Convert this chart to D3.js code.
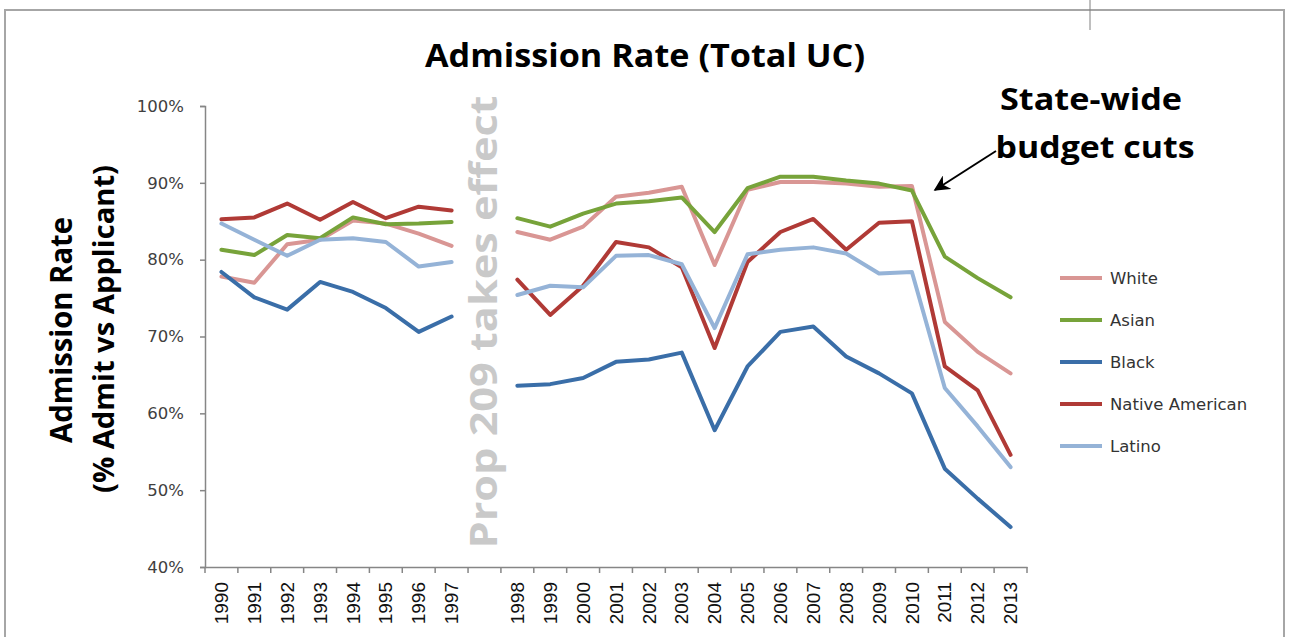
<!DOCTYPE html>
<html>
<head>
<meta charset="utf-8">
<script src="https://cdn.jsdelivr.net/npm/d3@7"></script>
<style>
  body { margin: 0; background: #fff; }
  svg { display: block; }
</style>
</head>
<body>
<svg id="chart" width="1290" height="637"></svg>
<script>
// years before and after prop 209
var yearsBefore = ['1990','1991','1992','1993','1994','1995','1996','1997'];
var yearsAfter = ['1998','1999','2000','2001','2002','2003','2004','2005','2006','2007','2008','2009','2010','2011','2012','2013'];

var white = [77.8, 77.0, 82.0, 82.6, 85.1, 84.7, 83.4, 81.8,
             83.6, 82.6, 84.3, 88.2, 88.7, 89.5, 79.3, 89.1, 90.1, 90.1, 89.9, 89.5, 89.6, 71.9, 68.0, 65.2];
var asian = [81.3, 80.6, 83.2, 82.8, 85.5, 84.6, 84.7, 84.9,
             85.4, 84.3, 86.0, 87.3, 87.6, 88.1, 83.6, 89.3, 90.8, 90.8, 90.3, 89.9, 89.0, 80.4, 77.6, 75.1];
var black = [78.4, 75.1, 73.5, 77.1, 75.8, 73.7, 70.6, 72.6,
             63.6, 63.8, 64.6, 66.7, 67.0, 67.9, 57.8, 66.1, 70.6, 71.3, 67.4, 65.2, 62.6, 52.8, 48.9, 45.2];
var nativeAm = [85.25, 85.5, 87.3, 85.2, 87.5, 85.4, 86.9, 86.4,
             77.4, 72.8, 76.6, 82.3, 81.6, 79.0, 68.5, 79.7, 83.6, 85.3, 81.3, 84.8, 85.0, 66.1, 63.0, 54.6];
var latino = [84.7, 82.6, 80.5, 82.6, 82.8, 82.3, 79.1, 79.7,
             75.4, 76.6, 76.4, 80.5, 80.6, 79.4, 71.1, 80.7, 81.3, 81.6, 80.8, 78.2, 78.4, 63.3, 58.3, 53.0];

var seriesNames = ['White', 'Asian', 'Black', 'Native American', 'Latino'];
var seriesColors = ['#d99694', '#77a33a', '#3a6ea8', '#b03a36', '#95b3d7'];
var yTicks = [40, 50, 60, 70, 80, 90, 100];

var allSeries = [white, asian, black, nativeAm, latino];
var gapKey = 'gap';
var categories = yearsBefore.concat([gapKey]).concat(yearsAfter);
var allYears = yearsBefore.concat(yearsAfter);

var svg = d3.select('#chart');

// outer frame
svg.append('rect').attr('x', 5).attr('y', 10).attr('width', 1279).attr('height', 640)
    .attr('fill', 'none').attr('stroke', '#a6a6a6').attr('stroke-width', 2);
svg.append('line').attr('x1', 1090).attr('x2', 1090).attr('y1', 0).attr('y2', 30)
    .attr('stroke', '#808080').attr('stroke-width', 1);

var plotLeft = 205, plotRight = 1027, plotTop = 106, plotBottom = 567;

var x = d3.scaleBand().domain(categories).range([plotLeft, plotRight]).paddingInner(0).paddingOuter(0);
var y = d3.scaleLinear().domain([40, 100]).range([plotBottom, plotTop]);

// y axis
var yAxis = d3.axisLeft(y).tickValues(yTicks).tickSize(5).tickFormat(function(d) { return d + '%'; });
var gy = svg.append('g').attr('transform', 'translate(' + plotLeft + ',0)').call(yAxis);
gy.select('.domain').attr('stroke', '#868686').attr('stroke-width', 1.5);
gy.selectAll('.tick line').attr('stroke', '#868686').attr('stroke-width', 1.5);
gy.selectAll('.tick text').attr('x', -21).style('font-family', 'DejaVu Sans, sans-serif')
    .style('font-size', '16.5px').attr('fill', '#404040');

// x axis: labels in band centers, ticks at band edges
var xAxis = d3.axisBottom(x).tickSize(0).tickFormat(function(d) { return d === gapKey ? '' : d; });
var gx = svg.append('g').attr('transform', 'translate(0,' + plotBottom + ')').call(xAxis);
gx.select('.domain').attr('stroke', '#868686').attr('stroke-width', 1.5);
gx.selectAll('.tick text')
    .attr('transform', 'rotate(-90)')
    .attr('x', -15).attr('y', 0).attr('dy', '0.35em')
    .style('text-anchor', 'end')
    .style('font-family', 'Liberation Sans, Arial, sans-serif')
    .style('font-size', '19px').attr('fill', '#111');

var edges = categories.map(function(c) { return x(c); }).concat([plotRight]);
gx.selectAll('.edge').data(edges).enter().append('line')
    .attr('class', 'edge')
    .attr('x1', function(d) { return d; }).attr('x2', function(d) { return d; })
    .attr('y1', 0).attr('y2', 6)
    .attr('stroke', '#868686').attr('stroke-width', 1.5);

// lines
var line = d3.line()
    .defined(function(d) { return d.v !== null; })
    .x(function(d) { return x(d.year) + x.bandwidth() / 2; })
    .y(function(d) { return y(d.v); });

allSeries.forEach(function(vals, i) {
    var pts = [];
    allYears.forEach(function(yr, j) {
        if (yr === '1998') pts.push({ year: gapKey, v: null });
        pts.push({ year: yr, v: vals[j] });
    });
    svg.append('path').datum(pts)
        .attr('fill', 'none')
        .attr('stroke', seriesColors[i])
        .attr('stroke-width', 4)
        .attr('stroke-linejoin', 'round')
        .attr('stroke-linecap', 'round')
        .attr('d', line);
});

// title
svg.append('text').attr('x', 645).attr('y', 67).attr('text-anchor', 'middle')
    .attr('textLength', 440).attr('lengthAdjust', 'spacingAndGlyphs')
    .style('font-family', 'Open Sans, sans-serif').style('font-weight', 'bold').style('font-size', '32px')
    .text('Admission Rate (Total UC)');

// y axis title
svg.append('text').attr('transform', 'translate(72,330) rotate(-90)').attr('text-anchor', 'middle')
    .attr('textLength', 226).attr('lengthAdjust', 'spacingAndGlyphs')
    .style('font-family', 'Open Sans, sans-serif').style('font-weight', 'bold').style('font-size', '30px')
    .text('Admission Rate');
svg.append('text').attr('transform', 'translate(114,329) rotate(-90)').attr('text-anchor', 'middle')
    .attr('textLength', 328).attr('lengthAdjust', 'spacingAndGlyphs')
    .style('font-family', 'Open Sans, sans-serif').style('font-weight', 'bold').style('font-size', '29px')
    .text('(% Admit vs Applicant)');

// prop 209 annotation
svg.append('text').attr('transform', 'translate(' + (x(gapKey) + x.bandwidth() / 2 + 13) + ',322) rotate(-90)')
    .attr('text-anchor', 'middle')
    .attr('textLength', 453).attr('lengthAdjust', 'spacingAndGlyphs')
    .style('font-family', 'Open Sans, sans-serif').style('font-weight', 'bold').style('font-size', '38px')
    .attr('fill', '#c9c9c9')
    .text('Prop 209 takes effect');

// budget cuts annotation
var note = svg.append('text').attr('text-anchor', 'middle')
    .style('font-family', 'Open Sans, sans-serif').style('font-weight', 'bold').style('font-size', '30px');
note.append('tspan').attr('x', 1091).attr('y', 110).attr('textLength', 182).attr('lengthAdjust', 'spacingAndGlyphs').text('State-wide');
note.append('tspan').attr('x', 1095).attr('y', 158).attr('textLength', 199).attr('lengthAdjust', 'spacingAndGlyphs').text('budget cuts');

svg.append('defs').append('marker').attr('id', 'arrow')
    .attr('viewBox', '0 0 10 10').attr('refX', 9).attr('refY', 5)
    .attr('markerWidth', 8).attr('markerHeight', 8).attr('orient', 'auto')
    .append('path').attr('d', 'M0,0 L10,5 L0,10 L3,5 Z').attr('fill', '#000');
svg.append('line').attr('x1', 996).attr('y1', 151).attr('x2', 935).attr('y2', 190)
    .attr('stroke', '#000').attr('stroke-width', 2).attr('marker-end', 'url(#arrow)');

// legend
var legend = svg.append('g').selectAll('g').data(seriesNames).enter().append('g')
    .attr('transform', function(d, i) { return 'translate(1060,' + (278 + i * 42) + ')'; });
legend.append('line').attr('x1', 0).attr('x2', 42).attr('y1', 0).attr('y2', 0)
    .attr('stroke', function(d, i) { return seriesColors[i]; }).attr('stroke-width', 4);
legend.append('text').attr('x', 50).attr('y', 0).attr('dy', '0.35em')
    .style('font-family', 'DejaVu Sans, sans-serif').style('font-size', '16.5px').attr('fill', '#333')
    .text(function(d) { return d; });
</script>
</body>
</html>
